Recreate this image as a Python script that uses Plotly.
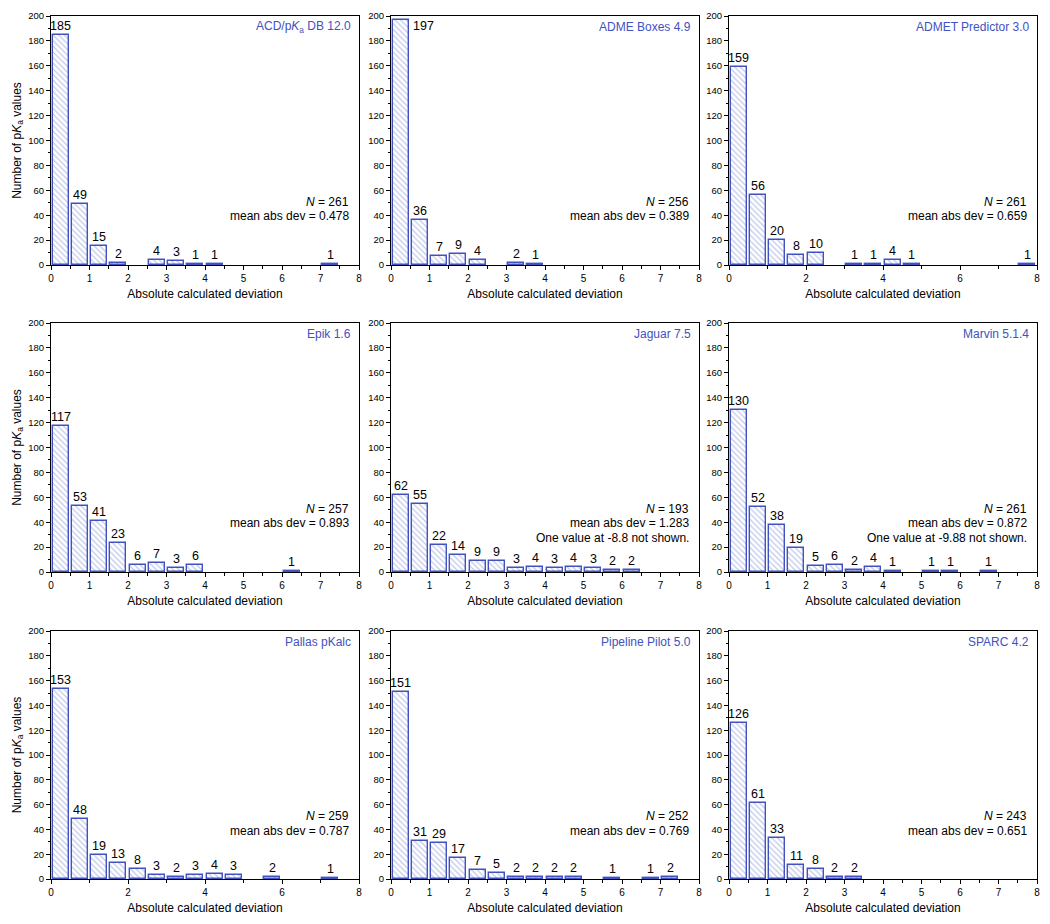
import plotly.graph_objects as go

# ---------------- data ----------------
panel_titles = [
    "ACD/p<i>K</i><sub>a</sub> DB 12.0", "ADME Boxes 4.9", "ADMET Predictor 3.0",
    "Epik 1.6", "Jaguar 7.5", "Marvin 5.1.4",
    "Pallas pKalc", "Pipeline Pilot 5.0", "SPARC 4.2",
]
panel_N = [261, 256, 261, 257, 193, 261, 259, 252, 243]
panel_mad = ["0.478", "0.389", "0.659", "0.893", "1.283", "0.872", "0.787", "0.769", "0.651"]
panel_note = ["", "", "", "", "One value at -8.8 not shown.", "One value at -9.88 not shown.", "", "", ""]
panel_xdtick = [1, 1, 2, 1, 1, 1, 2, 1, 1]

acd_x = [0.25, 0.75, 1.25, 1.75, 2.75, 3.25, 3.75, 4.25, 7.25]
acd_n = [185, 49, 15, 2, 4, 3, 1, 1, 1]

admeb_x = [0.25, 0.75, 1.25, 1.75, 2.25, 3.25, 3.75]
admeb_n = [197, 36, 7, 9, 4, 2, 1]

admet_x = [0.25, 0.75, 1.25, 1.75, 2.25, 3.25, 3.75, 4.25, 4.75, 7.75]
admet_n = [159, 56, 20, 8, 10, 1, 1, 4, 1, 1]

epik_x = [0.25, 0.75, 1.25, 1.75, 2.25, 2.75, 3.25, 3.75, 6.25]
epik_n = [117, 53, 41, 23, 6, 7, 3, 6, 1]

jaguar_x = [0.25, 0.75, 1.25, 1.75, 2.25, 2.75, 3.25, 3.75, 4.25, 4.75, 5.25, 5.75, 6.25]
jaguar_n = [62, 55, 22, 14, 9, 9, 3, 4, 3, 4, 3, 2, 2]

marvin_x = [0.25, 0.75, 1.25, 1.75, 2.25, 2.75, 3.25, 3.75, 4.25, 5.25, 5.75, 6.75]
marvin_n = [130, 52, 38, 19, 5, 6, 2, 4, 1, 1, 1, 1]

pallas_x = [0.25, 0.75, 1.25, 1.75, 2.25, 2.75, 3.25, 3.75, 4.25, 4.75, 5.75, 7.25]
pallas_n = [153, 48, 19, 13, 8, 3, 2, 3, 4, 3, 2, 1]

pp_x = [0.25, 0.75, 1.25, 1.75, 2.25, 2.75, 3.25, 3.75, 4.25, 4.75, 5.75, 6.75, 7.25]
pp_n = [151, 31, 29, 17, 7, 5, 2, 2, 2, 2, 1, 1, 2]

sparc_x = [0.25, 0.75, 1.25, 1.75, 2.25, 2.75, 3.25]
sparc_n = [126, 61, 33, 11, 8, 2, 2]

panel_x = [acd_x, admeb_x, admet_x, epik_x, jaguar_x, marvin_x, pallas_x, pp_x, sparc_x]
panel_n = [acd_n, admeb_n, admet_n, epik_n, jaguar_n, marvin_n, pallas_n, pp_n, sparc_n]

# ---------------- style ----------------
FONT = "Liberation Sans, Arial, sans-serif"
BLUE = "#4152c0"
HATCH = "#7f8fd6"
OFF = 8                      # page body margin
W, H = 1050 - OFF, 924 - OFF  # figure size so the page fits the window
col_px = [(51, 359), (391, 699), (729, 1037)]
row_px = [(16, 265), (323, 572), (631, 879)]

fig = go.Figure()
annotations = []

for i in range(9):
    r, c = divmod(i, 3)
    ax = "" if i == 0 else str(i + 1)
    xa, ya = "x" + ax, "y" + ax
    fig.add_trace(go.Bar(
        x=panel_x[i], y=panel_n[i], width=0.42,
        xaxis=xa, yaxis=ya,
        marker=dict(color="white",
                    line=dict(color=BLUE, width=1.4),
                    pattern=dict(shape="\\", fgcolor=HATCH, bgcolor="white",
                                 size=4, solidity=0.3)),
        showlegend=False, hoverinfo="x+y",
    ))
    x0, x1 = col_px[c]
    y0, y1 = row_px[r]
    dx = dict(domain=[(x0 - OFF) / W, (x1 - OFF) / W], range=[0, 8], anchor=ya,
              automargin=False, ticklabeloverflow="allow",
              showline=True, linecolor="black", linewidth=1, mirror=True,
              ticks="outside", ticklen=4, tickwidth=1, tickcolor="black",
              dtick=panel_xdtick[i], tick0=0,
              minor=dict(dtick=panel_xdtick[i] / 2, ticks="outside", ticklen=2.5,
                         tickcolor="black"),
              showgrid=False, zeroline=False,
              tickfont=dict(family=FONT, size=10, color="black"),
              title=dict(text="Absolute calculated deviation", standoff=6,
                         font=dict(family=FONT, size=12, color="black")))
    dy = dict(domain=[1 - (y1 - OFF) / H, 1 - (y0 - OFF) / H], range=[0, 200], anchor=xa,
              automargin=False, ticklabeloverflow="allow",
              showline=True, linecolor="black", linewidth=1, mirror=True,
              ticks="outside", ticklen=4, tickwidth=1, tickcolor="black",
              dtick=20, tick0=0,
              minor=dict(dtick=10, ticks="outside", ticklen=2.5, tickcolor="black"),
              showgrid=False, zeroline=False,
              tickfont=dict(family=FONT, size=9.5, color="black"))
    if c == 0:
        dy["title"] = dict(text="Number of p<i>K</i><sub>a</sub> values", standoff=4,
                           font=dict(family=FONT, size=12, color="black"))
    fig.update_layout(**{"xaxis" + ax: dx, "yaxis" + ax: dy})

    # panel title
    annotations.append(dict(xref=xa, yref=ya, x=7.85, y=191, text=panel_titles[i],
                            showarrow=False, xanchor="right", yanchor="middle",
                            font=dict(family=FONT, size=12, color=BLUE)))
    # stats
    annotations.append(dict(xref=xa, yref=ya, x=7.8, y=51,
                            text="<i>N</i> = %d" % panel_N[i],
                            showarrow=False, xanchor="right", yanchor="middle",
                            font=dict(family=FONT, size=12, color="black")))
    annotations.append(dict(xref=xa, yref=ya, x=7.8, y=39,
                            text="mean abs dev = " + panel_mad[i],
                            showarrow=False, xanchor="right", yanchor="middle",
                            font=dict(family=FONT, size=12, color="black")))
    if panel_note[i]:
        annotations.append(dict(xref=xa, yref=ya, x=7.8, y=27, text=panel_note[i],
                                showarrow=False, xanchor="right", yanchor="middle",
                                font=dict(family=FONT, size=12, color="black")))
    # bar value labels
    for xv, nv in zip(panel_x[i], panel_n[i]):
        if nv > 190:
            annotations.append(dict(xref=xa, yref=ya, x=xv + 0.27, y=nv + 2,
                                    text=str(nv), showarrow=False,
                                    xanchor="left", yanchor="top",
                                    font=dict(family=FONT, size=12.5, color="black")))
        else:
            annotations.append(dict(xref=xa, yref=ya, x=xv, y=nv, yshift=0,
                                    text=str(nv), showarrow=False,
                                    xanchor="center", yanchor="bottom",
                                    font=dict(family=FONT, size=12.5, color="black")))

fig.update_layout(
    width=W, height=H, autosize=False,
    margin=dict(l=0, r=0, t=0, b=0, autoexpand=False),
    paper_bgcolor="white", plot_bgcolor="white",
    bargap=0, annotations=annotations,
    font=dict(family=FONT, color="black"),
)

fig.write_html("out.html")
